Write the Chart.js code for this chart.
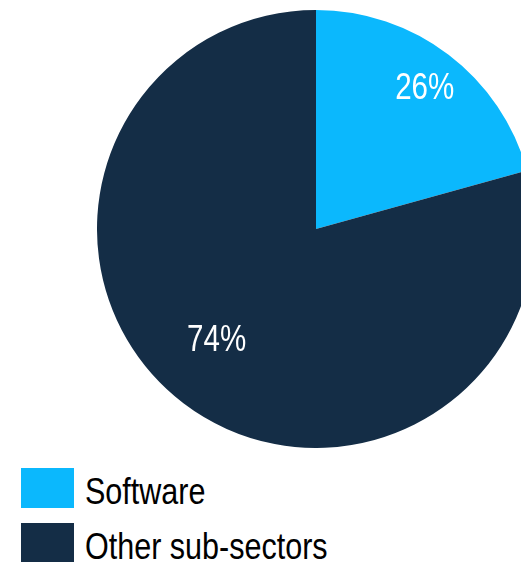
<!DOCTYPE html>
<html>
<head>
<meta charset="utf-8">
<script src="https://cdn.jsdelivr.net/npm/chart.js@4/dist/chart.umd.min.js"></script>
<style>
  html, body { margin: 0; padding: 0; background: #fff; }
  body { width: 521px; height: 562px; overflow: hidden; position: relative; }
  #pieWrap { position: absolute; left: 97px; top: 10px; width: 438px; height: 438px; }
  .legend-item { position: absolute; left: 21px; height: 40px; }
  .legend-box { position: absolute; left: 0; top: 0; width: 53px; height: 40px; }
  .legend-text {
    position: absolute; left: 64px; top: 4px; white-space: nowrap;
    font-family: "Liberation Sans", Arial, sans-serif;
    font-size: 37px; line-height: 40px; color: #000;
    transform: scaleX(0.825); transform-origin: 0 0;
  }
</style>
</head>
<body>
<div id="pieWrap"><canvas id="pie" width="438" height="438"></canvas></div>
<div id="legend"></div>
<script>
const categories = ["Software", "Other sub-sectors"];
// slice sizes as drawn in the picture, and the percentage text printed on them
const shares = [20.7, 79.3];
const shareLabels = ["26%", "74%"];
const colors = ["#0bb8fd", "#142d46"];

// label placement: fraction of radius, and a small turn (degrees) off the slice middle
const labelRadius = [0.82, 0.675];
const labelTurn = [0, 5];

const sliceLabels = {
  id: "sliceLabels",
  afterDatasetsDraw(chart) {
    const ctx = chart.ctx;
    const arcs = chart.getDatasetMeta(0).data;
    ctx.save();
    ctx.fillStyle = "#fff";
    ctx.font = '36px "Liberation Sans", Arial, sans-serif';
    ctx.textAlign = "center";
    ctx.textBaseline = "alphabetic";
    arcs.forEach((arc, i) => {
      const p = arc.getProps(["x", "y", "startAngle", "endAngle", "outerRadius"], true);
      const mid = (p.startAngle + p.endAngle) / 2 + labelTurn[i] * Math.PI / 180;
      const r = p.outerRadius * labelRadius[i];
      const x = p.x + Math.cos(mid) * r;
      const y = p.y + Math.sin(mid) * r;
      // narrow face: squeeze the text horizontally
      ctx.save();
      ctx.translate(x, y + 13);
      ctx.scale(0.82, 1);
      ctx.fillText(shareLabels[i], 0, 0);
      ctx.restore();
    });
    ctx.restore();
  }
};

new Chart(document.getElementById("pie").getContext("2d"), {
  type: "pie",
  data: {
    labels: categories,
    datasets: [{
      data: shares,
      backgroundColor: colors,
      borderWidth: 0,
    }]
  },
  options: {
    responsive: false,
    animation: false,
    rotation: 0,
    layout: { padding: 0 },
    plugins: {
      legend: { display: false },
      tooltip: { enabled: false }
    }
  },
  plugins: [sliceLabels]
});

const legend = document.getElementById("legend");
const legendTops = [468, 523];
categories.forEach((name, i) => {
  const item = document.createElement("div");
  item.className = "legend-item";
  item.style.top = legendTops[i] + "px";
  item.innerHTML = '<div class="legend-box" style="background:' + colors[i] + '"></div>' +
    '<span class="legend-text">' + name + '</span>';
  legend.appendChild(item);
});
</script>
</body>
</html>
